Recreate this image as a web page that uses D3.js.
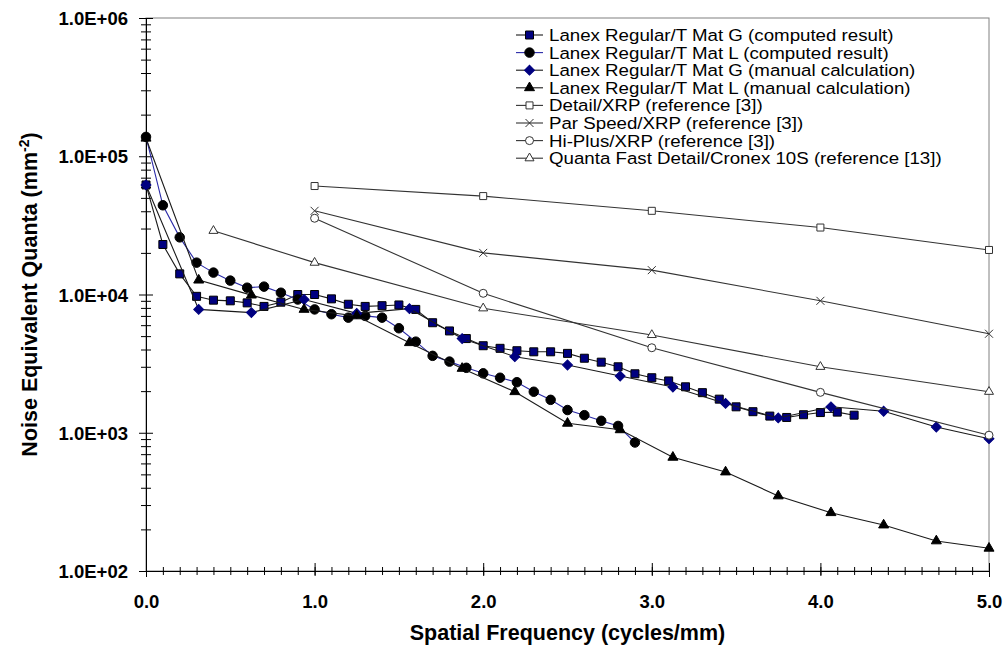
<!DOCTYPE html>
<html>
<head>
<meta charset="utf-8">
<script src="https://cdn.jsdelivr.net/npm/d3@7"></script>
<style>
  body { margin: 0; background: #fff; }
  svg { display: block; font-family: Arial, "Liberation Sans", sans-serif; }
  .tick-label { font-size: 18.5px; font-weight: bold; }
  .title { font-size: 21.5px; font-weight: bold; }
  .legend text { font-size: 17px; }
</style>
</head>
<body>
<svg id="chart" width="1008" height="652"></svg>
<script>
// frequencies (cycles/mm) and NEQ values (mm^-2)
var gCompX = [0, 0.1, 0.2, 0.3, 0.4, 0.5, 0.6, 0.7, 0.8, 0.9, 1.0, 1.1, 1.2, 1.3, 1.4, 1.5, 1.6, 1.7, 1.8, 1.9,
              2.0, 2.1, 2.2, 2.3, 2.4, 2.5, 2.6, 2.7, 2.8, 2.9, 3.0, 3.1, 3.2, 3.3, 3.4, 3.5, 3.6, 3.7, 3.8, 3.9,
              4.0, 4.1, 4.2];
var gCompY = [62000, 23000, 14100, 9700, 9100, 9000, 8700, 8200, 8800, 10000, 10000, 9300, 8500, 8200, 8300, 8400, 7800, 6250, 5450, 4800,
              4260, 4080, 3920, 3850, 3850, 3750, 3460, 3240, 3000, 2670, 2500, 2370, 2150, 1950, 1750, 1540, 1420, 1320, 1290, 1350,
              1400, 1410, 1340];

var lCompX = [0, 0.1, 0.2, 0.3, 0.4, 0.5, 0.6, 0.7, 0.8, 0.9, 1.0, 1.1, 1.2, 1.3, 1.4, 1.5, 1.6, 1.7, 1.8, 1.9,
              2.0, 2.1, 2.2, 2.3, 2.4, 2.5, 2.6, 2.7, 2.8, 2.9];
var lCompY = [138000, 44200, 25900, 17000, 14400, 12600, 11200, 11400, 10300, 9200, 7800, 7200, 6800, 7000, 6800, 5700, 4560, 3600, 3270, 2950,
              2690, 2500, 2320, 1980, 1730, 1460, 1340, 1220, 1120, 850];

var manX = [0, 0.3125, 0.625, 0.9375, 1.25, 1.5625, 1.875, 2.1875, 2.5, 2.8125, 3.125, 3.4375, 3.75, 4.0625, 4.375, 4.6875, 5.0];
var gManY = [62000, 7800, 7400, 9200, 7300, 7900, 4800, 3550, 3090, 2570, 2140, 1630, 1280, 1540, 1430, 1100, 906];
var lManY = [135000, 12700, 9900, 7800, 7000, 4480, 2920, 1980, 1170, 1050, 664, 520, 349, 264, 215, 165, 146];

var refX = [1, 2, 3, 4, 5];
var detailY = [60900, 51500, 40300, 30500, 21000];
var parY = [40300, 20000, 15000, 9000, 5200];
var hiPlusY = [35600, 10200, 4120, 1960, 960];
var quantaX = [0.4, 1, 2, 3, 4, 5];
var quantaY = [28900, 17000, 7950, 5100, 3000, 1980];

var legendLabels = [
  "Lanex Regular/T Mat G (computed result)",
  "Lanex Regular/T Mat L (computed result)",
  "Lanex Regular/T Mat G (manual calculation)",
  "Lanex Regular/T Mat L (manual calculation)",
  "Detail/XRP (reference [3])",
  "Par Speed/XRP (reference [3])",
  "Hi-Plus/XRP (reference [3])",
  "Quanta Fast Detail/Cronex 10S (reference [13])"
];

var xTicks = [0, 1, 2, 3, 4, 5];
var yTicks = [1e2, 1e3, 1e4, 1e5, 1e6];

var margin = {top: 18, right: 19, bottom: 81, left: 146};
var width = 1008 - margin.left - margin.right;
var height = 652 - margin.top - margin.bottom;

var svg = d3.select("#chart");
var g = svg.append("g").attr("transform", "translate(" + margin.left + "," + margin.top + ")");

var x = d3.scaleLinear().domain([0, 5]).range([0, width]);
var y = d3.scaleLog().domain([100, 1e6]).range([height, 0]);

// plot area border
g.append("rect")
    .attr("width", width).attr("height", height)
    .attr("fill", "none").attr("stroke", "#808080");

// minor ticks, then major ticks; they cross the axis line
var yMinor = [];
yTicks.slice(0, -1).forEach(function(d) { for (var k = 2; k < 10; k++) yMinor.push(d * k); });
var xMinor = d3.range(0, 51).map(function(i) { return i / 10; });

var yAx = g.append("g").attr("class", "axis axis--y");
yAx.call(d3.axisLeft(y).tickValues(yMinor).tickFormat(""))
  .selectAll(".tick line").attr("x1", -5).attr("x2", 5);
yAx.append("g").call(d3.axisLeft(y).tickValues(yTicks).tickFormat(function(d) { return "1.0E+0" + Math.round(Math.log10(d)); }))
  .call(function(s) {
    s.select(".domain").remove();
    s.selectAll(".tick line").attr("x1", -7).attr("x2", 7);
    s.selectAll(".tick text").attr("class", "tick-label").attr("x", -18).attr("dy", "0.36em");
  });

var xAx = g.append("g").attr("class", "axis axis--x").attr("transform", "translate(0," + height + ")");
xAx.call(d3.axisBottom(x).tickValues(xMinor).tickFormat(""))
  .selectAll(".tick line").attr("y1", -4).attr("y2", 4);
xAx.append("g").call(d3.axisBottom(x).tickValues(xTicks).tickFormat(d3.format(".1f")))
  .call(function(s) {
    s.select(".domain").remove();
    s.selectAll(".tick line").attr("y1", -8).attr("y2", 5);
    s.selectAll(".tick text").attr("class", "tick-label").attr("y", 37).attr("dy", 0);
  });
svg.selectAll(".axis path.domain").attr("stroke", "#000");
svg.selectAll(".axis .tick line").attr("stroke", "#000");
svg.selectAll(".axis text").attr("fill", "#000").attr("font-family", null).attr("font-size", null);

// axis titles
svg.append("text").attr("class", "title")
    .attr("x", margin.left + width / 2).attr("y", 640)
    .attr("text-anchor", "middle")
    .text("Spatial Frequency (cycles/mm)");

var yt = svg.append("text").attr("class", "title")
    .attr("transform", "translate(37," + (margin.top + height / 2) + ") rotate(-90)")
    .attr("text-anchor", "middle");
yt.append("tspan").text("Noise Equivalent Quanta (mm");
yt.append("tspan").attr("dy", -8).attr("font-size", "14px").text("-2");
yt.append("tspan").attr("dy", 8).text(")");

// marker shapes
var sq = function(s) { return d3.symbol(d3.symbolSquare, s * s)(); };
var circ = function(dia) { return d3.symbol(d3.symbolCircle, Math.PI * dia * dia / 4)(); };
var tri = function(s) { return d3.symbol(d3.symbolTriangle, Math.sqrt(3) / 4 * s * s)(); };
var cross = function(r) { return "M" + -r + "," + -r + "L" + r + "," + r + "M" + -r + "," + r + "L" + r + "," + -r; };

var series = [
  {xs: gCompX, ys: gCompY, line: "#1a1a1a", path: sq(8), fill: "#000080", stroke: "#000", rot: 0},
  {xs: lCompX, ys: lCompY, line: "#2a2aa8", path: circ(9.5), fill: "#000", stroke: "#000", rot: 0},
  {xs: manX, ys: gManY, line: "#1a1a1a", path: sq(7), fill: "#000080", stroke: "#000080", rot: 45},
  {xs: manX, ys: lManY, line: "#1a1a1a", path: tri(10), fill: "#000", stroke: "#000", rot: 0},
  {xs: refX, ys: detailY, line: "#333", path: sq(7), fill: "#fff", stroke: "#333", rot: 0},
  {xs: refX, ys: parY, line: "#333", path: cross(4), fill: "none", stroke: "#333", rot: 0},
  {xs: refX, ys: hiPlusY, line: "#333", path: circ(8), fill: "#fff", stroke: "#333", rot: 0},
  {xs: quantaX, ys: quantaY, line: "#333", path: tri(9), fill: "#fff", stroke: "#333", rot: 0}
];

var line = d3.line().x(function(d) { return x(d[0]); }).y(function(d) { return y(d[1]); });

series.forEach(function(s) {
  var pts = s.xs.map(function(v, i) { return [v, s.ys[i]]; });
  var sg = g.append("g");
  sg.append("path").datum(pts)
      .attr("d", line).attr("fill", "none")
      .attr("stroke", s.line).attr("stroke-width", 1.1);
  sg.selectAll("path.mark").data(pts).enter().append("path")
      .attr("class", "mark")
      .attr("d", s.path)
      .attr("transform", function(d) { return "translate(" + x(d[0]) + "," + y(d[1]) + ") rotate(" + s.rot + ")"; })
      .attr("fill", s.fill).attr("stroke", s.stroke).attr("stroke-width", 1);
});

// legend, no box, inside the plot's top-right corner
var legend = svg.append("g").attr("class", "legend").attr("transform", "translate(516,35)");
var li = legend.selectAll("g").data(series).enter().append("g")
    .attr("transform", function(d, i) { return "translate(0," + i * 17.6 + ")"; });
li.append("line").attr("x1", 0).attr("x2", 27).attr("stroke", function(d) { return d.line; }).attr("stroke-width", 1.1);
li.append("path")
    .attr("d", function(d) { return d.path; })
    .attr("transform", function(d) { return "translate(13.5,0) rotate(" + d.rot + ")"; })
    .attr("fill", function(d) { return d.fill; }).attr("stroke", function(d) { return d.stroke; });
li.append("text").attr("transform", "translate(33,0) scale(1.1,1)").attr("dy", "0.35em")
    .text(function(d, i) { return legendLabels[i]; });
</script>
</body>
</html>
